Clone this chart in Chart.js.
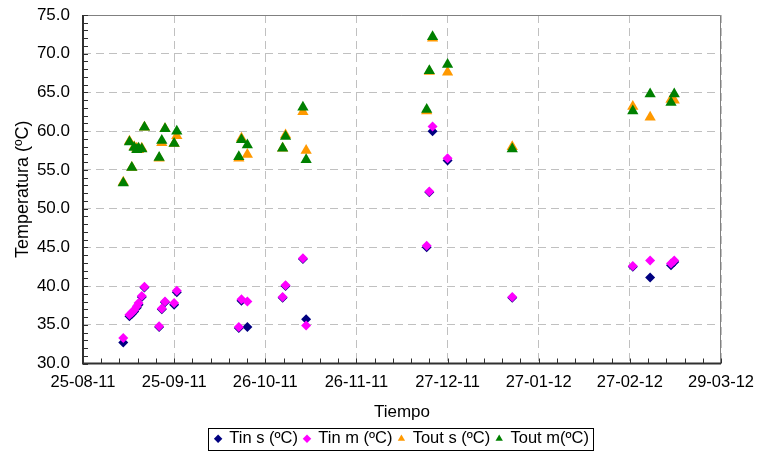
<!DOCTYPE html>
<html>
<head>
<meta charset="utf-8">
<script src="https://cdn.jsdelivr.net/npm/chart.js@4/dist/chart.umd.min.js"></script>
<style>
  html, body { margin: 0; padding: 0; background: #fff; }
  #wrap { width: 758px; height: 457px; }
</style>
</head>
<body>
<div id="wrap"><canvas id="myChart" width="758" height="457"></canvas></div>
<script>
// days counted from 25-08-11
var days  = [13.7, 15.8, 16.6, 17.4, 18.3, 18.9, 20.0, 20.9, 25.9, 26.8, 27.9, 31.0, 31.9,
             53.0, 53.9, 55.9, 67.9, 68.9, 74.8, 75.9,
             116.9, 117.8, 118.9, 124.0, 146.0,
             187.0, 192.9, 200.0, 201.1];
var tinS  = [32.7, 36.1, 36.4, 36.7, 37.2, 37.6, 38.6, 39.8, 34.7, 37.0, 37.9, 37.6, 39.2,
             34.6, 38.1, 34.7, 38.5, 40.0, 43.5, 35.7,
             45.0, 52.1, 60.0, 56.2, 38.5,
             42.5, 41.1, 42.7, 43.1];
var tinM  = [33.3, 36.3, 36.6, 36.9, 37.4, 37.8, 38.7, 39.9, 34.8, 37.1, 38.0, 37.8, 39.4,
             34.7, 38.3, 38.0, 38.6, 40.1, 43.6, 34.9,
             45.2, 52.2, 60.6, 56.5, 38.6,
             42.6, 43.3, 42.9, 43.3];
var toutS = [53.4, 58.7, 55.3, 58.0, 57.8, 57.6, 57.8, 60.5, 56.5, 58.5, 60.3, 58.4, 59.4,
             56.5, 59.1, 57.0, 57.8, 59.5, 62.5, 57.5,
             62.6, 67.7, 72.0, 67.6, 58.0,
             63.2, 61.8, 64.1, 64.0];
var toutM = [53.3, 58.6, 55.3, 57.9, 57.6, 57.8, 57.7, 60.5, 56.6, 58.8, 60.3, 58.4, 60.0,
             56.7, 58.9, 58.2, 57.8, 59.3, 63.1, 56.3,
             62.8, 67.8, 72.2, 68.6, 57.7,
             62.6, 64.8, 63.7, 64.8];

var xMin = 0, xMax = 217, xStep = 31;
var yMin = 30, yMax = 75, yStep = 5;
var startDate = Date.UTC(2011, 7, 25);

function pts(vals) {
  return days.map(function (d, i) { return { x: d, y: vals[i] }; });
}

function fmtDate(v) {
  var d = new Date(startDate + Math.round(v) * 86400000);
  var dd = ('0' + d.getUTCDate()).slice(-2);
  var mm = ('0' + (d.getUTCMonth() + 1)).slice(-2);
  var yy = ('' + d.getUTCFullYear()).slice(-2);
  return dd + '-' + mm + '-' + yy;
}

var FONT = "'Liberation Sans', Arial, sans-serif";

// frame, inside tick marks and legend box
var framePlugin = {
  id: 'frame',
  afterLayout: function (chart) {
    // legend centred under the plot area
    var lg = chart.legend, a = chart.chartArea;
    lg.left = a.left;
    lg.right = a.right;
    lg.width = a.right - a.left;
  },
  afterDraw: function (chart) {
    var c = chart.ctx, a = chart.chartArea;
    var xs = chart.scales.x, ys = chart.scales.y;
    c.save();
    c.setLineDash([]);
    c.strokeStyle = '#808080';
    c.lineWidth = 1;
    c.beginPath();
    c.moveTo(a.left, a.top + 0.5); c.lineTo(a.right - 0.5, a.top + 0.5); c.lineTo(a.right - 0.5, a.bottom);
    c.stroke();
    c.strokeStyle = '#303030';
    c.lineWidth = 2;
    c.beginPath();
    c.moveTo(a.left, a.top); c.lineTo(a.left, a.bottom); c.lineTo(a.right, a.bottom);
    c.stroke();
    c.lineWidth = 1;
    c.beginPath();
    for (var v = yMin; v <= yMax; v += 1) {
      var py = Math.round(ys.getPixelForValue(v)) + 0.5;
      c.moveTo(a.left, py); c.lineTo(a.left + 5, py);
    }
    for (var k = 0; k <= (xMax - xMin) / xStep * 5; k++) {
      var px = Math.round(xs.getPixelForValue(xMin + k * xStep / 5)) + 0.5;
      c.moveTo(px, a.bottom); c.lineTo(px, a.bottom - 5);
    }
    c.stroke();
    // legend border
    var boxes = chart.legend.legendHitBoxes;
    if (boxes && boxes.length) {
      var l = boxes[0].left, r = boxes[boxes.length - 1].left + boxes[boxes.length - 1].width;
      var t = boxes[0].top, h = boxes[0].height;
      c.strokeStyle = '#000';
      c.lineWidth = 1;
      c.strokeRect(Math.round(l - 7) + 0.5, Math.round(t - 3) + 0.5, Math.round(r - l + 11), Math.round(h + 5));
    }
    c.restore();
  }
};

var ctx = document.getElementById('myChart');

var config = {
  type: 'scatter',
  data: {
    datasets: [{
      label: 'Tin s (ºC)',
      data: pts(tinS),
      pointStyle: 'rectRot',
      pointRadius: 5,
      backgroundColor: '#000080',
      borderColor: '#000080',
      borderWidth: 0,
      order: 3
    }, {
      label: 'Tin m (ºC)',
      data: pts(tinM),
      pointStyle: 'rectRot',
      pointRadius: 5,
      backgroundColor: '#FF00FF',
      borderColor: '#FF00FF',
      borderWidth: 0,
      order: 2
    }, {
      label: 'Tout s (ºC)',
      data: pts(toutS),
      pointStyle: 'triangle',
      pointRadius: 6.5,
      backgroundColor: '#FF9900',
      borderColor: '#FF9900',
      borderWidth: 0,
      order: 1
    }, {
      label: 'Tout m(ºC)',
      data: pts(toutM),
      pointStyle: 'triangle',
      pointRadius: 6.5,
      backgroundColor: '#008000',
      borderColor: '#008000',
      borderWidth: 0,
      order: 0
    }]
  },
  options: {
    responsive: false,
    animation: false,
    events: [],
    layout: { padding: { left: 0, right: 37, top: 15, bottom: 0 } },
    plugins: {
      tooltip: { enabled: false },
      legend: {
        position: 'bottom',
        labels: {
          usePointStyle: true,
          boxWidth: 6,
          boxHeight: 6,
          padding: 6,
          color: '#000',
          font: { family: FONT, size: 16.5 },
          sort: function (a, b) { return a.datasetIndex - b.datasetIndex; }
        }
      }
    },
    scales: {
      x: {
        type: 'linear',
        min: xMin,
        max: xMax,
        afterFit: function (s) { s.height = 61; s.paddingLeft = 0; s.paddingRight = 0; },
        afterBuildTicks: function (s) {
          s.ticks = [];
          for (var v = xMin; v <= xMax; v += xStep) s.ticks.push({ value: v });
        },
        ticks: {
          color: '#000',
          padding: 9,
          maxRotation: 0,
          font: { family: FONT, size: 16.5 },
          callback: function (v) { return fmtDate(v); }
        },
        grid: { color: '#c0c0c0', lineWidth: 1, drawTicks: false },
        border: { display: false, dash: [8, 5] },
        title: {
          display: true,
          text: 'Tiempo',
          color: '#000',
          padding: { top: 0, bottom: 2 },
          font: { family: FONT, size: 17 }
        }
      },
      y: {
        min: yMin,
        max: yMax,
        afterFit: function (s) { s.width = 83; s.paddingTop = 0; s.paddingBottom = 0; },
        ticks: {
          stepSize: yStep,
          color: '#000',
          padding: 13,
          font: { family: FONT, size: 17 },
          callback: function (v) { return v.toFixed(1); }
        },
        grid: { color: '#c0c0c0', lineWidth: 1, drawTicks: false },
        border: { display: false, dash: [8, 5] },
        title: {
          display: true,
          text: 'Temperatura (ºC)',
          color: '#000',
          padding: { top: 12, bottom: 0 },
          font: { family: FONT, size: 18 }
        }
      }
    }
  },
  plugins: [framePlugin]
};

var chart = new Chart(ctx, config);
</script>
</body>
</html>
